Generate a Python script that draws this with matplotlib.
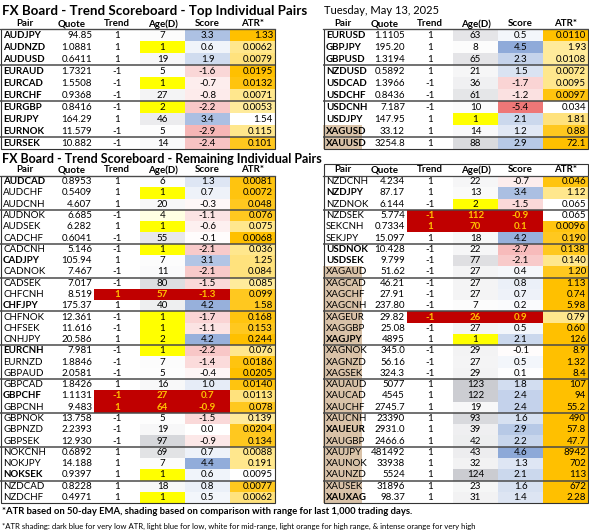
import numpy as np
import matplotlib.pyplot as plt
from matplotlib.patches import Rectangle
from matplotlib.colors import LinearSegmentedColormap, TwoSlopeNorm, to_rgb
from matplotlib import font_manager

top_l_pairs = ["AUDJPY", "AUDNZD", "AUDUSD", "EURAUD", "EURCAD", "EURCHF",
               "EURGBP", "EURJPY", "EURNOK", "EURSEK"]
top_l_quote = ["94.85", "1.0881", "0.6411", "1.7321", "1.5508", "0.9368",
               "0.8416", "164.29", "11.579", "10.882"]
top_l_trend = [1, 1, 1, -1, -1, -1, -1, 1, -1, -1]
top_l_age = [7, 1, 19, 5, 1, 27, 2, 46, 5, 14]
top_l_score = [3.3, 0.6, 1.9, -1.6, -0.7, -0.8, -2.2, 3.4, -2.9, -2.4]
top_l_atr = ["1.33", "0.0062", "0.0079", "0.0195", "0.0132", "0.0071",
             "0.0053", "1.54", "0.115", "0.101"]
top_l_shade = [1.0, 0.55, 0.6, 1.0, 0.95, 0.55, 0.5, 0.0, 0.55, 0.9]

top_r_pairs = ["EURUSD", "GBPJPY", "GBPUSD", "NZDUSD", "USDCAD", "USDCHF",
               "USDCNH", "USDJPY", "XAGUSD", "XAUUSD"]
top_r_quote = ["1.1105", "195.20", "1.3194", "0.5892", "1.3966", "0.8436",
               "7.187", "147.95", "33.12", "3254.8"]
top_r_trend = [1, 1, 1, 1, -1, -1, -1, 1, 1, 1]
top_r_age = [63, 8, 65, 21, 36, 61, 10, 1, 14, 88]
top_r_score = [0.5, 4.5, 2.3, 1.5, -1.7, -1.2, -5.4, 2.1, 1.2, 2.9]
top_r_atr = ["0.0110", "1.93", "0.0108", "0.0072", "0.0095", "0.0097",
             "0.034", "1.81", "0.88", "72.1"]
top_r_shade = [1.0, 0.5, 0.5, 0.55, 0.55, 0.95, 0.0, 0.6, 0.9, 1.0]

bot_l_pairs = ["AUDCAD", "AUDCHF", "AUDCNH", "AUDNOK", "AUDSEK", "CADCHF",
               "CADCNH", "CADJPY", "CADNOK", "CADSEK", "CHFCNH", "CHFJPY",
               "CHFNOK", "CHFSEK", "CNHJPY", "EURCNH", "EURNZD", "GBPAUD",
               "GBPCAD", "GBPCHF", "GBPCNH", "GBPNOK", "GBPNZD", "GBPSEK",
               "NOKCNH", "NOKJPY", "NOKSEK", "NZDCAD", "NZDCHF"]
bot_l_quote = ["0.8953", "0.5409", "4.607", "6.685", "6.282", "0.6041",
               "5.146", "105.94", "7.467", "7.017", "8.519", "175.37",
               "12.361", "11.616", "20.586", "7.981", "1.8846", "2.0581",
               "1.8426", "1.1131", "9.483", "13.758", "2.2393", "12.930",
               "0.6892", "14.188", "0.9397", "0.8228", "0.4971"]
bot_l_trend = [1, 1, 1, -1, 1, -1, -1, 1, -1, -1, 1, 1, -1, -1, 1, -1, -1, -1,
               1, -1, 1, -1, -1, -1, 1, 1, 1, 1, 1]
bot_l_age = [6, 1, 20, 4, 1, 55, 1, 7, 11, 80, 57, 40, 1, 1, 2, 1, 7, 5,
             16, 27, 64, 5, 19, 97, 69, 7, 1, 18, 1]
bot_l_score = [1.3, 0.7, -0.3, -1.1, -0.6, -0.1, -2.1, 3.1, -2.1, -1.5, -1.3,
               4.2, -1.7, -1.1, 4.2, -2.2, -1.4, -0.4, 1.0, 0.7, -0.9, -1.5,
               0.0, -0.9, 0.7, 4.4, 0.6, 0.8, 0.5]
bot_l_atr = ["0.0081", "0.0072", "0.048", "0.076", "0.075", "0.0068",
             "0.036", "1.25", "0.084", "0.085", "0.099", "1.58", "0.168",
             "0.153", "0.244", "0.076", "0.0186", "0.0205", "0.0140",
             "0.0113", "0.078", "0.139", "0.0204", "0.134", "0.0088",
             "0.191", "0.0095", "0.0077", "0.0062"]
bot_l_shade = [0.95, 0.95, 0.9, 0.9, 0.55, 1.0, 0.55, 0.6, 0.6, 0.5, 0.9, 0.9,
               0.95, 0.9, 1.0, 0.55, 0.95, 1.0, 0.95, 0.6, 0.9, 0.5, 0.9, 0.9,
               0.55, 0.55, 0.0, 0.9, 0.6]

bot_r_pairs = ["NZDCNH", "NZDJPY", "NZDNOK", "NZDSEK", "SEKCNH", "SEKJPY",
               "USDNOK", "USDSEK", "XAGAUD", "XAGCAD", "XAGCHF", "XAGCNH",
               "XAGEUR", "XAGGBP", "XAGJPY", "XAGNOK", "XAGNZD", "XAGSEK",
               "XAUAUD", "XAUCAD", "XAUCHF", "XAUCNH", "XAUEUR", "XAUGBP",
               "XAUJPY", "XAUNOK", "XAUNZD", "XAUSEK", "XAUXAG"]
bot_r_quote = ["4.234", "87.17", "6.144", "5.774", "0.7334", "15.097",
               "10.428", "9.799", "51.62", "46.21", "27.91", "237.80",
               "29.82", "25.08", "4895", "345.0", "56.16", "324.3", "5077",
               "4545", "2745.7", "23390", "2931.0", "2466.6", "481492",
               "33938", "5524", "31896", "98.37"]
bot_r_trend = [1, 1, -1, -1, 1, 1, -1, -1, -1, -1, -1, -1, -1, -1, 1, -1, -1,
               -1, 1, 1, 1, 1, 1, 1, 1, 1, 1, 1, 1]
bot_r_age = [22, 13, 2, 112, 70, 18, 22, 77, 27, 27, 27, 7, 26, 27, 1, 29,
             27, 29, 123, 122, 19, 93, 39, 42, 43, 32, 124, 23, 31]
bot_r_score = [-0.7, 3.4, -1.5, -0.9, 0.1, 4.2, -2.7, -2.1, 0.4, 0.8, 0.7, 0.2,
               0.9, 0.5, 2.1, -0.1, 0.5, 0.1, 1.8, 2.4, 2.4, 1.6, 2.9, 2.2,
               4.6, 1.3, 2.1, 1.6, 1.4]
bot_r_atr = ["0.046", "1.12", "0.065", "0.065", "0.0096", "0.190", "0.138",
             "0.140", "1.20", "1.13", "0.74", "5.98", "0.79", "0.60", "126",
             "8.9", "1.32", "8.4", "107", "94", "55.2", "490", "57.8",
             "47.7", "8942", "702", "113", "672", "2.28"]
bot_r_shade = [0.95, 0.55, 0.0, 0.0, 0.95, 0.9, 0.9, 0.55, 0.9, 1.0, 1.0, 1.0,
               0.55, 1.0, 1.0, 1.0, 1.0, 1.0, 1.0, 1.0, 1.0, 1.0, 1.0, 1.0,
               1.0, 1.0, 1.0, 1.0, 1.0]

bold_pairs = ["AUDCAD", "CADJPY", "CHFJPY", "EURCNH", "GBPCHF", "NOKSEK",
              "NZDJPY", "USDNOK", "USDSEK", "XAGJPY", "XAUEUR", "XAUXAG"]
flagged_pairs = ["CHFCNH", "GBPCHF", "GBPCNH", "NZDSEK", "SEKCNH", "XAGEUR"]

headers = ["Pair", "Quote", "Trend", "Age(D)", "Score", "ATR*"]
title_top = "FX Board - Trend Scoreboard - Top Individual Pairs"
title_bot = "FX Board - Trend Scoreboard - Remaining Individual Pairs"
date_text = "Tuesday, May 13, 2025"
note1 = ("*ATR based on 50-day EMA, shading based on comparison with range "
         "for last 1,000 trading days.")
note2 = ("*ATR shading: dark blue for very low ATR, light blue for low, white "
         "for mid-range, light orange for high range, & intense orange for very high")

# ---------- style ----------
names = {f.name for f in font_manager.fontManager.ttflist}
FONT = "Liberation Sans Narrow" if "Liberation Sans Narrow" in names else "Lato"
plt.rcParams["font.family"] = FONT
FS = 7.0

score_cmap = LinearSegmentedColormap.from_list("sc", ["#EE7777", "#FFFFFF", "#8DA9D8"])
score_norm = TwoSlopeNorm(vmin=-5.4, vcenter=0.0, vmax=4.6)
atr_cmap = LinearSegmentedColormap.from_list("atr", ["#FFFFFF", "#FFEB9C", "#FFC000"])
YELLOW = np.array(to_rgb("#FFFF00"))
WHITE = np.ones(3)
GRAY = np.array(to_rgb("#CBCCD1"))
TAN = "#D9C2A8"
FLAG_BG = "#C00000"
FLAG_FG = "#FFC000"
GROUP_LINE = "#4A4A4A"


def age_color(a):
    if a <= 2:
        return YELLOW
    if a < 5:
        t = ((5 - a) / 3) ** 2
        return WHITE * (1 - t) + YELLOW * t
    t = min(a / 124, 1.0)
    return WHITE * (1 - t) + GRAY * t


fig = plt.figure(figsize=(5.89, 5.32), dpi=100)
ax = fig.add_axes([0, 0, 1, 1])
ax.set_xlim(0, 589)
ax.set_ylim(532, 0)
ax.axis("off")


def draw_table(x0, pair_w, y_top, row_h, pairs, quote, trend, age, score, atr,
               shade, header_y, boxed_header=False):
    # column edges
    edges = [x0, x0 + pair_w, x0 + pair_w + 44, x0 + pair_w + 90,
             x0 + pair_w + 135, x0 + pair_w + 180, x0 + pair_w + 225]
    n = len(pairs)
    y_bot = y_top + n * row_h
    for j, h in enumerate(headers):
        ax.text((edges[j] + edges[j + 1]) / 2, header_y, h, ha="center",
                va="center", fontsize=FS, fontweight="bold")
    for i in range(n):
        y = y_top + i * row_h
        yc = y + row_h / 2
        p = pairs[i]
        if p.startswith("XA"):
            ax.add_patch(Rectangle((edges[0], y), edges[1] - edges[0] - 1, row_h,
                                   color=TAN, lw=0))
        flag = p in flagged_pairs
        if flag:
            ax.add_patch(Rectangle((edges[2], y), edges[5] - edges[2], row_h,
                                   color=FLAG_BG, lw=0))
        else:
            ax.add_patch(Rectangle((edges[3], y), edges[4] - edges[3], row_h,
                                   color=age_color(age[i]), lw=0))
            ax.add_patch(Rectangle((edges[4], y), edges[5] - edges[4], row_h,
                                   color=score_cmap(score_norm(score[i])), lw=0))
        ax.add_patch(Rectangle((edges[5], y), edges[6] - edges[5], row_h,
                               color=atr_cmap(shade[i]), lw=0))
        ax.text(edges[0] + 3, yc, p, ha="left", va="center", fontsize=FS,
                fontweight="bold" if (p in bold_pairs or row_h > 11.5) else "normal")
        ax.text(edges[2] - 2, yc, quote[i], ha="right", va="center", fontsize=FS)
        fc = FLAG_FG if flag else "black"
        fw = "bold" if flag else "normal"
        ax.text((edges[2] + edges[3]) / 2, yc, str(trend[i]), ha="center",
                va="center", fontsize=FS, color=fc, fontweight=fw)
        ax.text((edges[3] + edges[4]) / 2, yc, str(age[i]), ha="center",
                va="center", fontsize=FS, color=fc, fontweight=fw)
        ax.text((edges[4] + edges[5]) / 2, yc, f"{score[i]:.1f}", ha="center",
                va="center", fontsize=FS, color=fc, fontweight=fw)
        ax.text(edges[6] - 2, yc, atr[i], ha="right", va="center", fontsize=FS)
    # group separators every 3 rows
    for g in range(3, n, 3):
        ax.plot([edges[0], edges[6]], [y_top + g * row_h] * 2, color=GROUP_LINE,
                lw=1.1, solid_capstyle="butt")
    box_top = header_y - 6 if boxed_header else y_top
    ax.plot([edges[0], edges[6]], [y_top, y_top], color=GROUP_LINE, lw=0.9)
    ax.add_patch(Rectangle((edges[0] + 0.5, box_top), edges[6] - edges[0] - 1,
                           y_bot - box_top, fill=False, ec="#333333", lw=0.8))


ax.text(2, 11, title_top, ha="left", va="center", fontsize=9.65, fontweight="bold")
ax.text(324, 10, date_text, ha="left", va="center", fontsize=8.0)
ax.text(2, 159, title_bot, ha="left", va="center", fontsize=9.0, fontweight="bold")

draw_table(0, 50, 29, 12.0, top_l_pairs, top_l_quote, top_l_trend, top_l_age,
           top_l_score, top_l_atr, top_l_shade, 24)
draw_table(323, 40, 29, 12.0, top_r_pairs, top_r_quote, top_r_trend, top_r_age,
           top_r_score, top_r_atr, top_r_shade, 24)
draw_table(0, 50, 176, 11.28, bot_l_pairs, bot_l_quote, bot_l_trend, bot_l_age,
           bot_l_score, bot_l_atr, bot_l_shade, 170)
draw_table(323, 40, 176, 11.28, bot_r_pairs, bot_r_quote, bot_r_trend, bot_r_age,
           bot_r_score, bot_r_atr, bot_r_shade, 170, boxed_header=True)

ax.text(2, 511, note1, ha="left", va="center", fontsize=6.8, fontweight="bold")
ax.text(2, 526, note2, ha="left", va="center", fontsize=5.6)

fig.savefig("out.png", dpi=100)
